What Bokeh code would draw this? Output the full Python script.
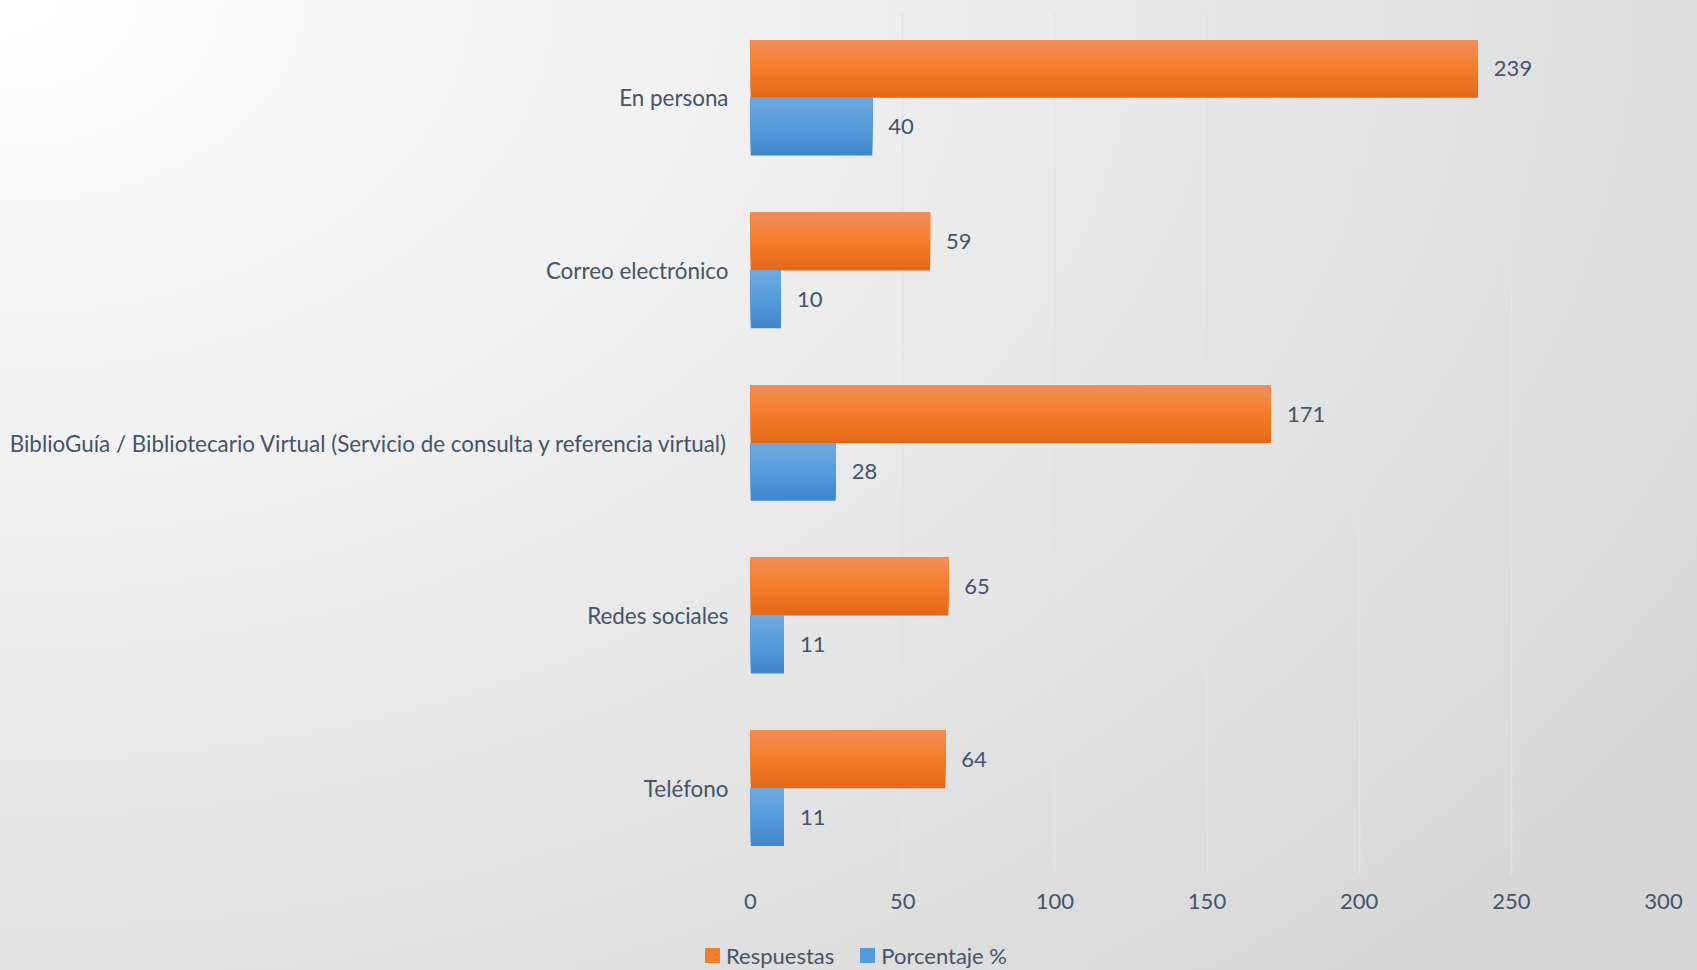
from bokeh.plotting import figure
from bokeh.models import (FactorRange, Range1d, FixedTicker, ColumnDataSource, Div)
from bokeh.layouts import column
from bokeh.transform import dodge
from bokeh.embed import file_html
from bokeh.resources import INLINE
from bokeh.core.properties import value

# ---------------- data ----------------
categories = [
    "En persona",
    "Correo electrónico",
    "BiblioGuía / Bibliotecario Virtual (Servicio de consulta y referencia virtual)",
    "Redes sociales",
    "Teléfono",
]
respuestas = [239, 59, 171, 65, 64]
porcentaje = [40, 10, 28, 11, 11]
x_ticks = [0, 50, 100, 150, 200, 250, 300]
series_names = ["Respuestas", "Porcentaje %"]

# ---------------- style ----------------
FONT = "Lato"
FS = "22px"
TEXT_COLOR = "#44546A"
BAR_H = 0.335
N_STRIPS = 14
orange_top, orange_mid, orange_bot = (241, 143, 90), (245, 124, 40), (226, 103, 25)
blue_top, blue_mid, blue_bot = (113, 170, 222), (85, 155, 220), (62, 134, 202)


def grad(top, mid, bot, t):
    # t: 0 at top, 1 at bottom
    if t < 0.5:
        a, b, u = top, mid, t / 0.5
    else:
        a, b, u = mid, bot, (t - 0.5) / 0.5
    c = [int(round(a[i] + (b[i] - a[i]) * u)) for i in range(3)]
    return "#%02x%02x%02x" % tuple(c)


src = ColumnDataSource(dict(
    cat=categories,
    resp=respuestas,
    pct=porcentaje,
    resp_lbl=[str(v) for v in respuestas],
    pct_lbl=[str(v) for v in porcentaje],
))

W = 1697
H_MAIN, H_LEG = 930, 40
p = figure(
    width=W, height=H_MAIN,
    y_range=FactorRange(factors=categories[::-1], range_padding=0),
    x_range=Range1d(0, 300),
    output_backend="svg", toolbar_location=None,
    min_border_left=750, min_border_right=34, min_border_top=11, min_border_bottom=56,
)
p.background_fill_alpha = 0
p.border_fill_alpha = 0
p.outline_line_color = None

# gradient-like bars: layered strips, each covering from bar top down to a depth
def draw_bar(field, top_off, cols):
    for i in range(N_STRIPS):
        f = (N_STRIPS - i) / N_STRIPS  # fraction of bar covered from top
        t = (N_STRIPS - i - 0.5) / N_STRIPS
        col = grad(*cols, t)
        h = BAR_H * f
        center = top_off - h / 2
        p.hbar(y=dodge("cat", center, range=p.y_range), right=field, left=0,
               height=h, source=src, fill_color=col, line_color=None)

draw_bar("resp", BAR_H, (orange_top, orange_mid, orange_bot))
draw_bar("pct", 0.0, (blue_top, blue_mid, blue_bot))

# value labels
p.text(x="resp", y=dodge("cat", BAR_H / 2, range=p.y_range), text="resp_lbl", source=src,
       x_offset=16, text_baseline="middle", text_align="left",
       text_font=value(FONT), text_font_size=FS, text_color=TEXT_COLOR)
p.text(x="pct", y=dodge("cat", -BAR_H / 2, range=p.y_range), text="pct_lbl", source=src,
       x_offset=16, text_baseline="middle", text_align="left",
       text_font=value(FONT), text_font_size=FS, text_color=TEXT_COLOR)

# axes
p.xaxis.ticker = FixedTicker(ticks=x_ticks)
p.xaxis.axis_line_color = None
p.xaxis.major_tick_line_color = None
p.xaxis.minor_tick_line_color = None
p.xaxis.major_tick_out = 0
p.xaxis.major_tick_in = 0
p.xaxis.major_label_standoff = 19
p.xaxis.major_label_text_font = FONT
p.xaxis.major_label_text_font_size = FS
p.xaxis.major_label_text_color = TEXT_COLOR

p.yaxis.axis_line_color = None
p.yaxis.major_tick_line_color = None
p.yaxis.minor_tick_line_color = None
p.yaxis.major_tick_out = 0
p.yaxis.major_tick_in = 0
p.yaxis.major_label_standoff = 22
p.yaxis.major_label_text_font = FONT
p.yaxis.major_label_text_font_size = "22.4px"
p.yaxis.major_label_text_color = TEXT_COLOR

p.ygrid.grid_line_color = None
p.xgrid.ticker = FixedTicker(ticks=x_ticks)
p.xgrid.grid_line_color = "#dde4ec"
p.xgrid.grid_line_width = 1.5

# ---------------- legend (HTML, below the plot) ----------------
swatches = [grad(orange_top, orange_mid, orange_bot, 0.5), grad(blue_top, blue_mid, blue_bot, 0.5)]
items_html = "".join(
    '<span style="display:inline-flex;align-items:center;margin-right:26px;">'
    '<span style="display:inline-block;width:15px;height:15px;background:%s;margin-right:6px;"></span>'
    '<span>%s</span></span>' % (c, n)
    for c, n in zip(swatches, series_names)
)
leg = Div(
    text='<div style="display:flex;align-items:center;height:24px;">%s</div>' % items_html,
    width=W, height=H_LEG,
    styles={"font-family": FONT, "font-size": FS, "color": TEXT_COLOR,
            "padding-left": "700px", "padding-top": "8px", "box-sizing": "border-box",
            "line-height": "24px", "overflow": "hidden"},
)

layout = column(p, leg, spacing=0)
layout.styles = {"background": "radial-gradient(ellipse 120% 140% at 0% 0%, #ffffff 0%, #d7d7d7 100%)"}

open("out.html", "w").write(file_html(layout, INLINE))
